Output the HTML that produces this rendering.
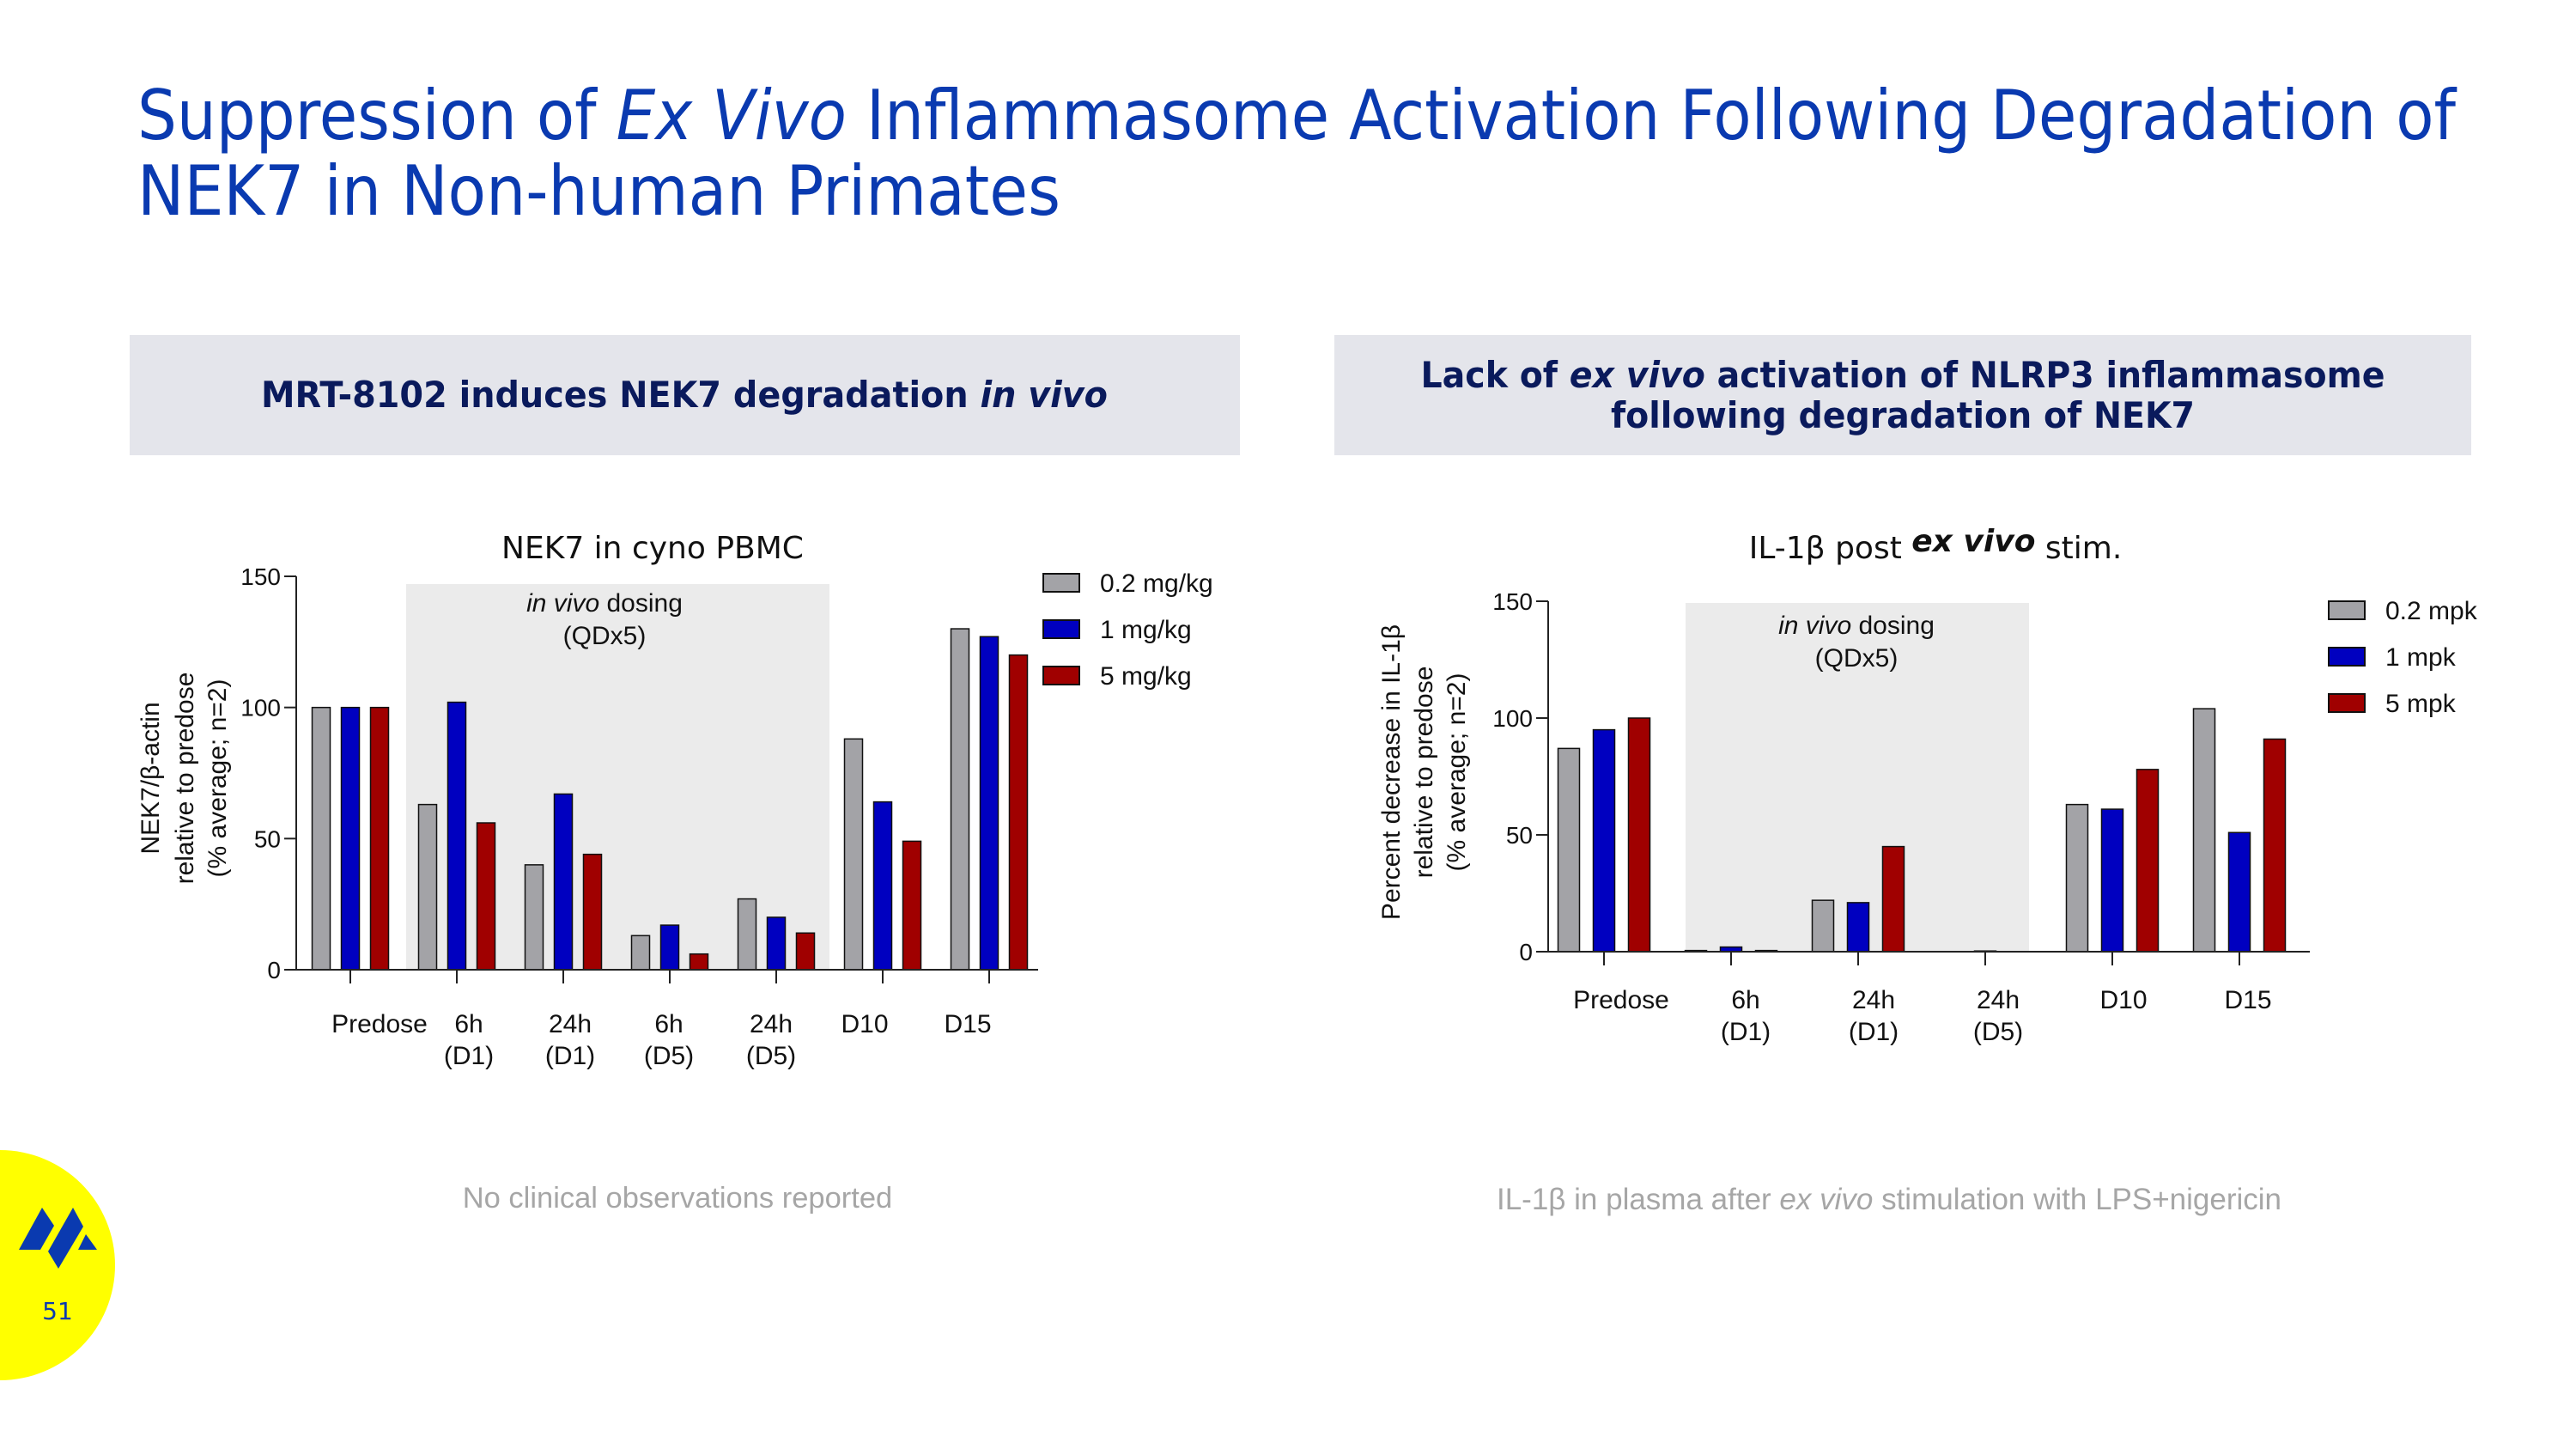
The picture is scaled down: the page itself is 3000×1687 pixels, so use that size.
<!DOCTYPE html>
<html><head><meta charset="utf-8">
<style>
html,body{margin:0;padding:0;background:#fff;}
svg{display:block;}
text{font-family:"Liberation Sans",sans-serif;}
</style></head>
<body>
<svg id="slide" width="3000" height="1687" viewBox="0 0 3000 1687" xmlns="http://www.w3.org/2000/svg">
<rect width="3000" height="1687" fill="#fff"/>
<g fill="#0a3ab0" font-size="80" font-family="DejaVu Sans, Liberation Sans, sans-serif">
<text x="160" y="162" style="font-family:'DejaVu Sans',sans-serif" textLength="2700" lengthAdjust="spacingAndGlyphs">Suppression of <tspan font-style="italic">Ex Vivo</tspan> Inflammasome Activation Following Degradation of</text>
<text x="160" y="250" style="font-family:'DejaVu Sans',sans-serif" textLength="1075" lengthAdjust="spacingAndGlyphs">NEK7 in Non-human Primates</text>
</g>
<rect x="151" y="390" width="1293" height="140" fill="#e4e5eb"/>
<text x="797" y="474" text-anchor="middle" font-size="42" font-weight="bold" fill="#0a1a5c" style="font-family:'DejaVu Sans',sans-serif" textLength="986" lengthAdjust="spacingAndGlyphs">MRT-8102 induces NEK7 degradation <tspan font-style="italic">in vivo</tspan></text>
<rect x="1554" y="390" width="1324" height="140" fill="#e4e5eb"/>
<g font-size="42" font-weight="bold" fill="#0a1a5c" text-anchor="middle">
<text x="2216" y="451" style="font-family:'DejaVu Sans',sans-serif" textLength="1123" lengthAdjust="spacingAndGlyphs">Lack of <tspan font-style="italic">ex vivo</tspan> activation of NLRP3 inflammasome</text>
<text x="2216" y="498" style="font-family:'DejaVu Sans',sans-serif" textLength="680" lengthAdjust="spacingAndGlyphs">following degradation of NEK7</text>
</g>
<g id="chartL"></g>
<g id="chartR"></g>
<text x="789" y="1406" text-anchor="middle" font-size="34.5" fill="#a6a6a6">No clinical observations reported</text>
<text x="2200" y="1408" text-anchor="middle" font-size="35" fill="#a6a6a6">IL-1β in plasma after <tspan font-style="italic">ex vivo</tspan> stimulation with LPS+nigericin</text>
<circle cx="0" cy="1473" r="134" fill="#ffff00"/>
<g fill="#0a3ab0">
<polygon points="22,1455 49,1406 63,1427 47,1455"/>
<polygon points="56,1457 85,1406 97,1428 68,1477"/>
<polygon points="91,1455 100,1437 113,1455"/>
</g>
<text x="67" y="1536" text-anchor="middle" font-size="28" fill="#0a3ab0" style="font-family:'DejaVu Sans',sans-serif">51</text>
</svg>
<script>
// Left chart data
const catsL = [["Predose"],["6h","(D1)"],["24h","(D1)"],["6h","(D5)"],["24h","(D5)"],["D10"],["D15"]];
const lowL = [100,63,40,13,27,88,130];
const midL = [100,102,67,17,20,64,127];
const highL = [100,56,44,6,14,49,120];
const legendL = ["0.2 mg/kg","1 mg/kg","5 mg/kg"];
const ticksL = [0,50,100,150];
// Right chart data
const catsR = [["Predose"],["6h","(D1)"],["24h","(D1)"],["24h","(D5)"],["D10"],["D15"]];
const lowR = [87,0.5,22,0,63,104];
const midR = [95,2,21,0.3,61,51];
const highR = [100,0.5,45,0,78,91];
const legendR = ["0.2 mpk","1 mpk","5 mpk"];
const ticksR = [0,50,100,150];

const NS="http://www.w3.org/2000/svg";
const COLORS=["#a3a3a7","#0000c0","#a00000"];
function mk(parent,tag,attrs,txt){const e=document.createElementNS(NS,tag);for(const k in attrs)e.setAttribute(k,attrs[k]);if(txt!==undefined)e.textContent=txt;parent.appendChild(e);return e;}

function drawChart(g,cfg,cats,series,ticks,legend){
  const yScale=v=>cfg.y0-(v/150)*(cfg.y0-cfg.y150);
  const xCenter=i=>cfg.x0c+i*cfg.step;
  const sh=mk(g,'rect',{x:cfg.shX1,y:cfg.shY,width:cfg.shX2-cfg.shX1,height:cfg.y0-cfg.shY,fill:'#ebebeb'});
  
  
  const t1=mk(g,'text',{x:cfg.dosX,y:cfg.dosY,'text-anchor':'middle','font-size':30,fill:'#111'});
  
  
  mk(t1,'tspan',{'font-style':'italic'},'in vivo');
  mk(t1,'tspan',{},' dosing');
  const t2=mk(g,'text',{x:cfg.dosX,y:cfg.dosY+38,'text-anchor':'middle','font-size':30,fill:'#111'},'(QDx5)');
  
  
  series.forEach((arr,s)=>{
    arr.forEach((v,i)=>{
      const x=xCenter(i)+(s-1)*cfg.off-cfg.bw/2;
      const y=yScale(v);
      const b=mk(g,'rect',{x:x,y:y,width:cfg.bw,height:Math.max(cfg.y0-y,0),fill:COLORS[s],stroke:'#111','stroke-width':1.5});
      
      
    });
  });
  const ya=mk(g,'line',{x1:cfg.ax,y1:cfg.y150,x2:cfg.ax,y2:cfg.y0,stroke:'#222','stroke-width':2});
  
  
  const xa=mk(g,'line',{x1:cfg.ax,y1:cfg.y0,x2:cfg.xEnd,y2:cfg.y0,stroke:'#222','stroke-width':2});
  
  
  ticks.forEach(t=>{
    const y=yScale(t);
    mk(g,'line',{x1:cfg.ax-14,y1:y,x2:cfg.ax,y2:y,stroke:'#222','stroke-width':2});
    const tl=mk(g,'text',{x:cfg.ax-18,y:y+10,'text-anchor':'end','font-size':28,fill:'#111'},String(t));
    
    
  });
  cats.forEach((c,i)=>{
    const x=xCenter(i);
    mk(g,'line',{x1:x,y1:cfg.y0,x2:x,y2:cfg.y0+16,stroke:'#222','stroke-width':2});
    c.forEach((line,j)=>{
      const lx=(cfg.labelX?cfg.labelX[i]:x);
      const cl=mk(g,'text',{x:lx,y:cfg.labY+j*37,'text-anchor':'middle','font-size':30,fill:'#111'},line);
      
      
    });
  });
  legend.forEach((l,s)=>{
    const y=cfg.legY+s*cfg.legStep;
    const sw=mk(g,'rect',{x:cfg.legX,y:y-10,width:42,height:21,fill:COLORS[s],stroke:'#111','stroke-width':2});
    
    
    const lt=mk(g,'text',{x:cfg.legX+66,y:y+11,'font-size':30,fill:'#111'},l);
    
    
  });
  cfg.yTitle.forEach((line,j)=>{
    const x=cfg.yTitleX[j];
    const yt=mk(g,'text',{x:x,y:cfg.yTitleY,'text-anchor':'middle','font-size':30,fill:'#111',transform:'rotate(-90 '+x+' '+cfg.yTitleY+')'},line);
    
    
  });
}

drawChart(document.getElementById('chartL'),{
  ax:345,y0:1129,y150:671,xEnd:1209,x0c:408,step:124,bw:21,off:34,
  shX1:473,shX2:966,shY:680,dosX:704,dosY:712,labY:1202,
  labelX:[442,546,664,779,898,1007,1127],
  legX:1215,legY:678,legStep:54,
  yTitle:["NEK7/β-actin","relative to predose","(% average; n=2)"],yTitleX:[185,225,263],yTitleY:906
},catsL,[lowL,midL,highL],ticksL,legendL);
const tl=mk(document.getElementById('chartL'),'text',{x:760,y:650,'text-anchor':'middle','font-size':36,fill:'#111',style:"font-family:'DejaVu Sans',sans-serif"},'NEK7 in cyno PBMC');



drawChart(document.getElementById('chartR'),{
  ax:1803,y0:1108,y150:700,xEnd:2690,x0c:1868,step:148,bw:25,off:41,
  shX1:1963,shX2:2363,shY:702,dosX:2162,dosY:738,labY:1174,
  labelX:[1888,2033,2182,2327,2473,2618],
  legX:2712,legY:710,legStep:54,
  yTitle:["Percent decrease in IL-1β","relative to predose","(% average; n=2)"],yTitleX:[1630,1668,1706],yTitleY:899
},catsR,[lowR,midR,highR],ticksR,legendR);
const tr=mk(document.getElementById('chartR'),'text',{x:2254,y:650,'text-anchor':'middle','font-size':36,fill:'#111',style:"font-family:'DejaVu Sans',sans-serif"});


mk(tr,'tspan',{},'IL-1β post ');
mk(tr,'tspan',{'font-style':'italic','font-weight':'bold','dy':-8},'ex vivo');
mk(tr,'tspan',{'dy':8},' stim.');
</script>
</body></html>
